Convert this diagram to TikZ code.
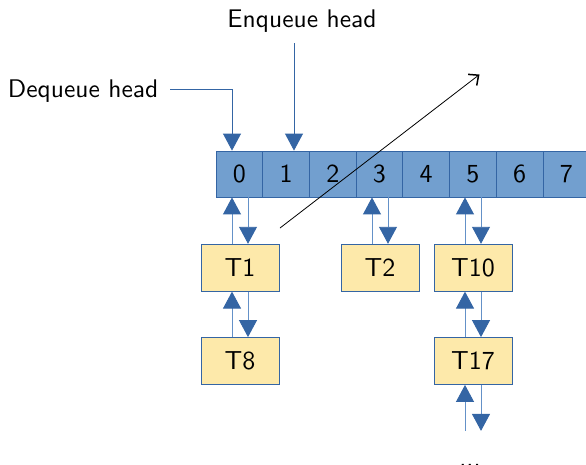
\documentclass[tikz,border=0pt]{standalone}
\usepackage{fontspec}
\newfontfamily\lmsten{lmsans10-regular.otf}
\usetikzlibrary{arrows.meta,calc}
\definecolor{cellfill}{RGB}{114,159,207}
\definecolor{celldraw}{RGB}{52,101,164}
\definecolor{boxfill}{RGB}{253,233,170}
\definecolor{shaft}{RGB}{100,145,200}
\begin{document}
\begin{tikzpicture}[x=1pt,y=-1pt,
  cellbox/.style={draw=celldraw,fill=cellfill,line width=0.8pt,minimum width=46.7pt,minimum height=46pt,inner sep=0pt,font=\lmsten\fontsize{26}{30}\selectfont},
  taskbox/.style={draw=celldraw,fill=boxfill,line width=0.8pt,minimum width=78pt,minimum height=47pt,inner sep=0pt,font=\lmsten\fontsize{26}{30}\selectfont},
  lbl/.style={inner sep=0pt,font=\lmsten\fontsize{25.5}{30}\selectfont},
  link/.style={draw=shaft,line width=0.9pt,-{Triangle[length=17pt,width=18pt,color=celldraw]}},
  headline/.style={draw=celldraw,line width=0.8pt}
]
\useasboundingbox (0,0) rectangle (586,464);
\foreach \i in {0,...,7}{
  \node[cellbox] (c\i) at ({216+46.7*(\i+0.5)},174) {\i};
}
\node[taskbox] (T1) at (240,267.7) {T1};
\node[taskbox] (T8) at (240,361) {T8};
\node[taskbox] (T2) at (380,267.7) {T2};
\node[taskbox] (T10) at (473,267.7) {T10};
\node[taskbox] (T17) at (473,361) {T17};
\node[lbl,anchor=base east] (deq) at (158.5,97.7) {Dequeue head};
\node[lbl,anchor=base] (enq) at (302,27.7) {Enqueue head};
\node[lbl] (dots) at (470,465) {...};
% head pointers
\coordinate (enqtop) at (294,43);
\coordinate (deqstart) at (170,89);
\coordinate (deqcorner) at (232,89);
\draw[headline] (deqstart) -- (deqcorner);
\draw[link,draw=celldraw,line width=0.8pt] (deqcorner) -- (deqcorner |- c0.north);
\draw[link,draw=celldraw,line width=0.8pt] (enqtop) -- (enqtop |- c1.north);
% links between cells and tasks
\foreach \a/\b in {c0/T1,c3/T2,c5/T10}{
  \draw[link] ([xshift=-8pt]\b.north) -- ([xshift=-8pt]\b.north |- \a.south);
  \draw[link] ([xshift=8pt]\b.north |- \a.south) -- ([xshift=8pt]\b.north);
}
\foreach \a/\b in {T1/T8,T10/T17}{
  \draw[link] ([xshift=-8pt]\b.north) -- ([xshift=-8pt]\a.south);
  \draw[link] ([xshift=8pt]\a.south) -- ([xshift=8pt]\b.north);
}
\coordinate (t17a) at ($(T17.south)+(-8,46)$);
\coordinate (t17b) at ($(T17.south)+(8,46)$);
\draw[link] (t17a) -- (t17a |- T17.south);
\draw[link] (t17b |- T17.south) -- (t17b);
% diagonal
\coordinate (dstart) at (280,228);
\coordinate (dend) at (479.5,74.5);
\draw[black,line width=0.8pt,-{Straight Barb[angle=84:10.5pt,line width=1.5pt]}] (dstart) -- (dend);
\end{tikzpicture}
\end{document}
